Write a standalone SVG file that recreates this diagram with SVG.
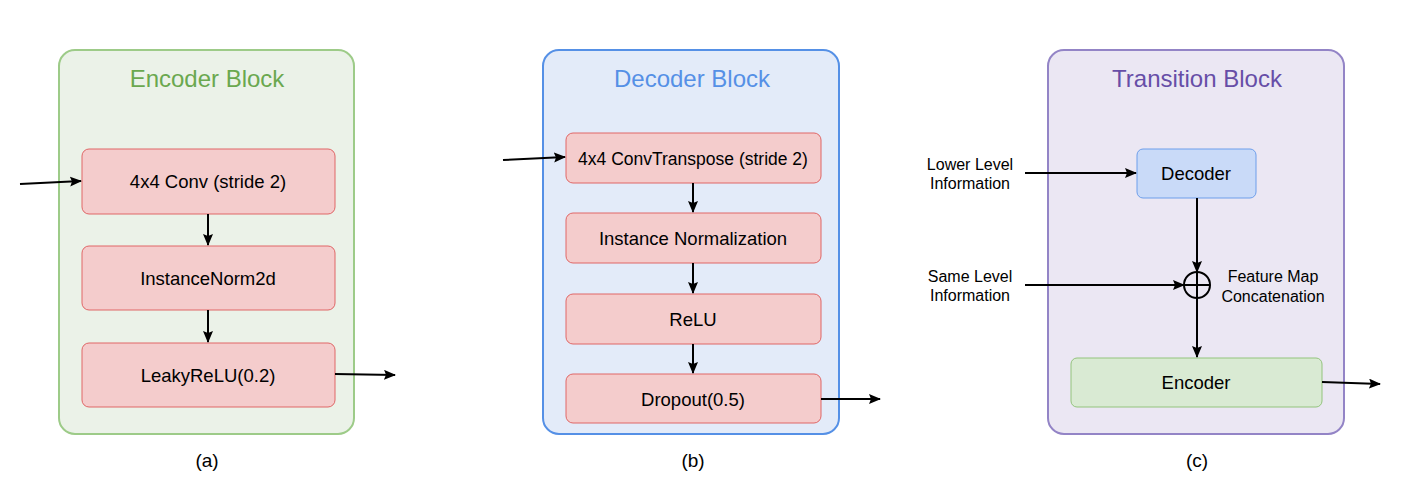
<svg xmlns="http://www.w3.org/2000/svg" width="1404" height="485" viewBox="0 0 1404 485">
<defs>
<marker id="ah" markerWidth="12" markerHeight="10" refX="11" refY="5" orient="auto" markerUnits="userSpaceOnUse">
<path d="M0,0 L12,5 L0,10 L2,5 Z" fill="#000"/>
</marker>
<style>
text{font-family:"Liberation Sans",Arial,sans-serif;fill:#000;text-anchor:middle}
.title{font-size:24px}
.lbl{font-size:18.5px}
.cap{font-size:19px}
.sm{font-size:16px}
.red{fill:#f4cccc;stroke:#e06666;stroke-width:1}
.conn line{stroke:#000;stroke-width:2;fill:none}
.arr{marker-end:url(#ah)}
</style>
</defs>
<rect width="1404" height="485" fill="#fff"/>

<g id="encoder-block">
<rect x="59" y="50" width="295" height="384" rx="16" fill="#ebf2e8" stroke="#9dcb88" stroke-width="2"/>
<text class="title" x="207" y="87" style="fill:#6aa84f">Encoder Block</text>
</g>
<g id="enc-conv"><rect class="red" x="82" y="149" width="253" height="65" rx="7"/><text class="lbl" x="208" y="188">4x4 Conv (stride 2)</text></g>
<g id="enc-norm"><rect class="red" x="82" y="246" width="253" height="64" rx="7"/><text class="lbl" x="208" y="285">InstanceNorm2d</text></g>
<g id="enc-relu"><rect class="red" x="82" y="343" width="253" height="64" rx="7"/><text class="lbl" x="208" y="382">LeakyReLU(0.2)</text></g>
<text class="cap" x="207" y="467">(a)</text>

<g id="decoder-block">
<rect x="543" y="50" width="296" height="384" rx="16" fill="#e3ebf9" stroke="#5590e6" stroke-width="2"/>
<text class="title" x="692" y="87" style="fill:#5590e6">Decoder Block</text>
</g>
<g id="dec-convt"><rect class="red" x="566" y="133" width="255" height="50" rx="7"/><text class="lbl" x="693" y="165" style="font-size:17.5px">4x4 ConvTranspose (stride 2)</text></g>
<g id="dec-norm"><rect class="red" x="566" y="213" width="255" height="50" rx="7"/><text class="lbl" x="693" y="245">Instance Normalization</text></g>
<g id="dec-relu"><rect class="red" x="566" y="294" width="255" height="50" rx="7"/><text class="lbl" x="693" y="326">ReLU</text></g>
<g id="dec-drop"><rect class="red" x="566" y="374" width="255" height="49" rx="7"/><text class="lbl" x="693" y="406">Dropout(0.5)</text></g>
<text class="cap" x="693" y="467">(b)</text>

<g id="transition-block">
<rect x="1048" y="50" width="296" height="384" rx="16" fill="#ebe7f3" stroke="#9384c6" stroke-width="2"/>
<text class="title" x="1197" y="87" style="fill:#674ea7">Transition Block</text>
</g>
<g id="tr-decoder"><rect x="1137" y="149" width="119" height="49" rx="6" fill="#c9daf8" stroke="#6d9eeb" stroke-width="1"/><text class="lbl" x="1196" y="180">Decoder</text></g>
<g id="tr-encoder"><rect x="1071" y="358" width="251" height="49" rx="6" fill="#d9ead3" stroke="#93c47d" stroke-width="1"/><text class="lbl" x="1196" y="389">Encoder</text></g>
<g id="tr-concat">
<circle cx="1197" cy="285" r="13" fill="none" stroke="#000" stroke-width="2"/>
<line x1="1184" y1="285" x2="1210" y2="285" stroke="#000" stroke-width="2"/>
<line x1="1197" y1="272" x2="1197" y2="298" stroke="#000" stroke-width="2"/>
</g>
<g id="labels">
<text class="sm" x="970" y="170">Lower Level</text>
<text class="sm" x="970" y="189">Information</text>
<text class="sm" x="970" y="282">Same Level</text>
<text class="sm" x="970" y="301">Information</text>
<text class="sm" x="1273" y="282">Feature Map</text>
<text class="sm" x="1273" y="302">Concatenation</text>
</g>
<text class="cap" x="1197" y="467">(c)</text>

<g id="connectors" class="conn">
<line class="arr" x1="20" y1="184" x2="81" y2="181"/>
<line class="arr" x1="208" y1="214" x2="208" y2="245"/>
<line class="arr" x1="208" y1="310" x2="208" y2="342"/>
<line class="arr" x1="335" y1="374" x2="395" y2="375"/>
<line class="arr" x1="503" y1="160" x2="565" y2="157"/>
<line class="arr" x1="693" y1="183" x2="693" y2="212"/>
<line class="arr" x1="693" y1="263" x2="693" y2="293"/>
<line class="arr" x1="693" y1="344" x2="693" y2="373"/>
<line class="arr" x1="821" y1="399" x2="880" y2="399"/>
<line class="arr" x1="1025" y1="173" x2="1136" y2="173"/>
<line class="arr" x1="1025" y1="285" x2="1184" y2="285"/>
<line class="arr" x1="1197" y1="198" x2="1197" y2="272"/>
<line class="arr" x1="1197" y1="298" x2="1197" y2="357"/>
<line class="arr" x1="1322" y1="382" x2="1380" y2="384"/>
</g>
</svg>
